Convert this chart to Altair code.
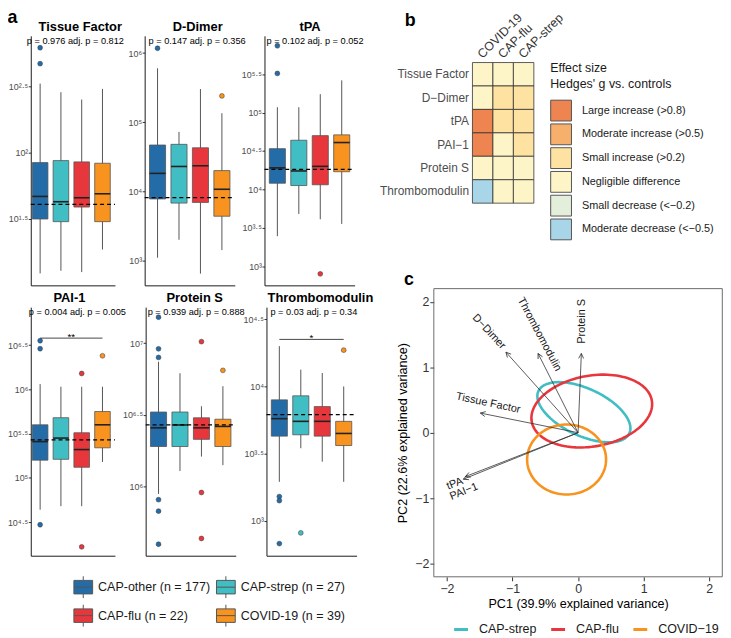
import altair as alt
import numpy as np
import pandas as pd

# ---------------------------------------------------------------- data
groups = ["CAP-other", "CAP-strep", "CAP-flu", "COVID-19"]
group_n = [177, 27, 22, 39]
group_colors = ["#246ca8", "#40bec4", "#e8373c", "#f7931e"]
group_labels = [f"{g} (n = {n})" for g, n in zip(groups, group_n)]

markers = ["Tissue Factor", "D-Dimer", "tPA", "PAI-1", "Protein S", "Thrombomodulin"]
p_text = [
    "p = 0.976 adj. p = 0.812",
    "p = 0.147 adj. p = 0.356",
    "p = 0.102 adj. p = 0.052",
    "p = 0.004 adj. p = 0.005",
    "p = 0.939 adj. p = 0.888",
    "p = 0.03 adj. p = 0.34",
]

# log10 concentrations; one row per marker, columns in `groups` order
whisker_low = [
    [1.09, 1.11, 1.10, 1.27],
    [3.04, 3.30, 2.81, 3.15],
    [3.39, 3.68, 3.61, 3.55],
    [4.64, 4.68, 4.68, 5.18],
    [5.95, 6.11, 6.21, 6.15],
    [3.29, 3.54, 3.44, 3.29],
]
quartile_1 = [
    [1.50, 1.48, 1.59, 1.48],
    [3.89, 3.83, 3.84, 3.64],
    [4.08, 4.05, 4.06, 4.23],
    [5.20, 5.21, 5.12, 5.34],
    [6.28, 6.28, 6.33, 6.28],
    [3.63, 3.64, 3.63, 3.56],
]
medians = [
    [1.67, 1.63, 1.66, 1.69],
    [4.26, 4.36, 4.37, 4.03],
    [4.28, 4.24, 4.30, 4.61],
    [5.41, 5.45, 5.32, 5.60],
    [6.41, 6.43, 6.41, 6.42],
    [3.76, 3.74, 3.74, 3.65],
]
quartile_3 = [
    [1.925, 1.94, 1.93, 1.92],
    [4.67, 4.68, 4.63, 4.30],
    [4.53, 4.64, 4.70, 4.71],
    [5.60, 5.68, 5.51, 5.75],
    [6.52, 6.52, 6.48, 6.47],
    [3.90, 3.93, 3.85, 3.74],
]
whisker_high = [
    [2.52, 2.455, 2.40, 2.48],
    [5.78, 4.86, 5.48, 5.13],
    [5.07, 5.07, 5.24, 5.42],
    [6.06, 6.03, 6.03, 6.03],
    [6.87, 6.79, 6.56, 6.70],
    [4.30, 4.125, 4.10, 4.00],
]
control_median = [1.61, 3.91, 4.26, 5.43, 6.43, 3.79]

# outliers: marker index, group index, log10 value
outlier_marker = [0, 0, 1, 1, 2, 2, 2,
                  3, 3, 3, 3, 3, 3,
                  4, 4, 4, 4, 4, 4, 4, 4, 4, 4,
                  5, 5, 5, 5, 5]
outlier_group = [0, 0, 0, 3, 0, 0, 2,
                 0, 0, 0, 2, 2, 3,
                 0, 0, 0, 0, 0, 0, 2, 2, 2, 3,
                 0, 0, 0, 1, 3]
outlier_value = [2.79, 2.67, 6.07, 5.38, 5.87, 5.51, 2.90,
                 6.55, 6.46, 4.47, 6.18, 4.22, 6.38,
                 7.18, 6.96, 6.90, 5.91, 5.83, 5.60, 7.01, 5.96, 5.64, 6.81,
                 3.18, 3.15, 2.83, 2.91, 4.27]

y_domains = [[1.0, 2.88], [2.64, 6.25], [2.75, 6.0], [4.12, 6.93], [5.52, 7.25], [2.74, 4.59]]
y_ticks = [[1.5, 2, 2.5], [3, 4, 5, 6], [3, 3.5, 4, 4.5, 5, 5.5],
           [4.5, 5, 5.5, 6, 6.5], [6, 6.5, 7], [3, 3.5, 4, 4.5]]

bracket_marker = [3, 5]
bracket_level = [6.58, 4.35]
bracket_stars = ["**", "*"]

# heatmap (panel b)
hm_rows = ["Tissue Factor", "D\u2212Dimer", "tPA", "PAI\u22121", "Protein S", "Thrombomodulin"]
hm_cols = ["COVID-19", "CAP-flu", "CAP-strep"]
effect_levels = ["Large increase (>0.8)", "Moderate increase (>0.5)", "Small increase (>0.2)",
                 "Negligible difference", "Small decrease (<\u22120.2)", "Moderate decrease (<\u22120.5)"]
effect_colors = ["#ee8450", "#f6b06c", "#fde2a2", "#fdf5c8", "#e3eedb", "#a9d5e8"]
hm_effect = [
    [3, 3, 3],
    [3, 2, 2],
    [0, 2, 2],
    [0, 3, 2],
    [3, 3, 3],
    [5, 3, 3],
]

# PCA biplot (panel c)
ellipse_groups = ["CAP-strep", "CAP-flu", "COVID\u221219"]
ellipse_colors = ["#40bec4", "#e8373c", "#f7931e"]
ellipse_cx = [0.089, 0.209, -0.175]
ellipse_cy = [0.313, 0.331, -0.409]
ellipse_a = [0.765, 0.93, 0.602]
ellipse_b = [0.36, 0.54, 0.534]
ellipse_angle = [-25, 10, 0]

loading_names = ["Tissue Factor", "D\u2212Dimer", "tPA", "PAI\u22121", "Protein S", "Thrombomodulin"]
loading_x = [-1.49, -1.10, -1.75, -1.72, 0.05, -0.61]
loading_y = [0.30, 1.23, -0.71, -0.67, 1.21, 1.21]
loading_label_x = [-1.37, -1.36, -1.88, -1.74, 0.063, -0.59]
loading_label_y = [0.45, 1.54, -0.78, -0.90, 1.70, 1.50]
loading_label_angle = [12, 47, 338, 338, 270, 62]

panel_letters = ["a", "b", "c"]

# ---------------------------------------------------------------- layout
W, H = 722, 629
panel_left = [[23, 138, 259], [23, 139, 261]]
panel_w = [85, 91, 91]
panel_xmin = [0.55, 0.4, 0.4]
row_top = [25, 299]
row_bottom = [277, 550]
title_dx = [7.5, 8, 0.5, -3.5, 4, 9]
p_dx = [-4, 4, 2, -2, 2, 4]
FONT = "Liberation Sans"

SUP = str.maketrans("0123456789.", "\u2070\u00b9\u00b2\u00b3\u2074\u2075\u2076\u2077\u2078\u2079\u00b7")


def power_label_expr(ticks):
    expr = "''"
    for t in reversed(ticks):
        expr = f"datum.value == {t} ? '10{format(t, 'g').translate(SUP)}' : {expr}"
    return expr


BOX_GLYPH = "M-0.86,-0.62H0.86V0.62H-0.86Z M-0.86,0H0.86 M0,-1V-0.62 M0,0.62V1"
fill_scale = alt.Scale(domain=group_labels, range=group_colors)
box_legend = alt.Legend(
    orient="none", legendX=64.5, legendY=570, columns=2, direction="horizontal", title=None,
    symbolType=BOX_GLYPH, symbolSize=484, symbolStrokeColor="#555555",
    symbolStrokeWidth=1, symbolOpacity=1, labelFontSize=12.6, labelColor="#1a1a1a",
    labelOffset=3.5, columnPadding=4, rowPadding=2, labelLimit=250,
)


def box_panel(k):
    row, col = divmod(k, 3)
    x0 = panel_left[row][col]
    x1 = x0 + panel_w[col]
    xmin = panel_xmin[col]
    yb, yt = row_bottom[row], row_top[row]
    ylo, yhi = y_domains[k]
    xs = alt.Scale(domain=[xmin, 4.6], range=[x0, x1], nice=False, zero=False)
    ys = alt.Scale(domain=[ylo, yhi], range=[yb, yt], nice=False, zero=False)
    x_axis = alt.Axis(orient="bottom", offset=yb - H, labels=False, ticks=False, title=None,
                      grid=False, domainColor="#1a1a1a", domainWidth=1)
    y_axis = alt.Axis(orient="left", offset=-x0, values=y_ticks[k],
                      labelExpr=power_label_expr(y_ticks[k]), title=None, grid=False,
                      domainColor="#1a1a1a", domainWidth=1, tickColor="#333333", tickSize=2.5,
                      labelColor="#4d4d4d", labelFontSize=9, labelPadding=0.5,
                      labelOverlap=False, labelFlush=False)

    def X(field):
        return alt.X(field, scale=xs, axis=x_axis)

    def Y(field):
        return alt.Y(field, scale=ys, axis=y_axis)

    summary = pd.DataFrame({
        "group": group_labels,
        "pos": [1, 2, 3, 4],
        "low": whisker_low[k],
        "q1": quartile_1[k],
        "median": medians[k],
        "q3": quartile_3[k],
        "high": whisker_high[k],
    })
    base = alt.Chart(summary)
    whisk = base.mark_rule(color="#555555", strokeWidth=1).encode(
        x=X("pos:Q"), y=Y("low:Q"), y2="high:Q",
    )
    halfw = base.transform_calculate(left="datum.pos - 0.375", right="datum.pos + 0.375")
    boxes = halfw.mark_rect(stroke="#555555", strokeWidth=0.8).encode(
        x=X("left:Q"), x2="right:Q", y=Y("q1:Q"), y2="q3:Q",
        fill=alt.Fill("group:N", scale=fill_scale, legend=box_legend),
    )
    meds = halfw.mark_rule(color="#222222", strokeWidth=1.6).encode(
        x=X("left:Q"), x2="right:Q", y=Y("median:Q"),
    )
    ref = alt.Chart(pd.DataFrame({"a": [xmin], "b": [4.6], "v": [control_median[k]]})).mark_rule(
        color="#000000", strokeWidth=1.2, strokeDash=[4, 3]
    ).encode(x=X("a:Q"), x2="b:Q", y=Y("v:Q"))
    idx = [i for i, m in enumerate(outlier_marker) if m == k]
    out_df = pd.DataFrame({
        "group": [group_labels[outlier_group[i]] for i in idx],
        "pos": [outlier_group[i] + 1 for i in idx],
        "value": [outlier_value[i] for i in idx],
    })
    outl = alt.Chart(out_df).mark_circle(size=24, opacity=1, stroke="#333333", strokeWidth=0.5).encode(
        x=X("pos:Q"), y=Y("value:Q"),
        fill=alt.Fill("group:N", scale=fill_scale, legend=box_legend),
    )
    txt_df = pd.DataFrame({"title": [markers[k]], "p": [p_text[k]], "xl": [xmin],
                           "xc": [(xmin + 4.6) / 2], "y": [yhi]})
    title = alt.Chart(txt_df).mark_text(fontSize=13, fontWeight="bold", align="center",
                                        baseline="middle", dx=title_dx[k], dy=-9,
                                        color="#000000").encode(
        x=X("xc:Q"), y=Y("y:Q"), text="title:N")
    ptxt = alt.Chart(txt_df).mark_text(fontSize=9.3, align="left", baseline="middle",
                                       dx=p_dx[k], dy=5, color="#000000").encode(
        x=X("xl:Q"), y=Y("y:Q"), text="p:N")
    layers = [whisk, boxes, meds, ref, outl, title, ptxt]
    if k in bracket_marker:
        j = bracket_marker.index(k)
        br_df = pd.DataFrame({"a": [1], "b": [4], "c": [2.5], "v": [bracket_level[j]], "s": [bracket_stars[j]]})
        layers.append(alt.Chart(br_df).mark_rule(color="#333333", strokeWidth=0.9).encode(
            x=X("a:Q"), x2="b:Q", y=Y("v:Q")))
        layers.append(alt.Chart(br_df).mark_text(fontSize=10, baseline="alphabetic", dy=2,
                                                 align="center", color="#000000").encode(
            x=X("c:Q"), y=Y("v:Q"), text="s:N"))
    return alt.layer(*layers)


def heatmap():
    recs = []
    for r, name in enumerate(hm_rows):
        for c, col in enumerate(hm_cols):
            recs.append({"row": name, "col": col, "effect": effect_levels[hm_effect[r][c]]})
    df = pd.DataFrame(recs)
    xs = alt.Scale(domain=hm_cols, range=[469, 531], paddingInner=0, paddingOuter=0)
    ys = alt.Scale(domain=hm_rows, range=[52, 194], paddingInner=0, paddingOuter=0)
    legend = alt.Legend(
        orient="none", legendX=547.5, legendY=52,
        title=["Effect size", "Hedges' g vs. controls"], titleFontSize=12.5,
        titleFontWeight="normal", titleLineHeight=16, titlePadding=9, titleColor="#1a1a1a",
        symbolType="square", symbolSize=441, symbolStrokeColor="#555555",
        symbolStrokeWidth=1, symbolOpacity=1, labelFontSize=11, labelColor="#1a1a1a",
        labelOffset=10, rowPadding=-2, labelLimit=250,
    )
    return alt.Chart(df).mark_rect(stroke="#333333", strokeWidth=0.8).encode(
        x=alt.X("col:N", sort=hm_cols, scale=xs,
                axis=alt.Axis(orient="top", offset=-52, title=None, ticks=False, tickSize=0,
                              domain=False, labelAngle=315, labelAlign="left",
                              labelBaseline="middle", labelPadding=7, labelOffset=-3,
                              labelFontSize=12.5, labelColor="#333333", labelOverlap=False,
                              labelLimit=200)),
        y=alt.Y("row:N", sort=hm_rows, scale=ys,
                axis=alt.Axis(orient="left", offset=-469, title=None, ticks=False, tickSize=0,
                              domain=False, labelPadding=4, labelFontSize=12,
                              labelColor="#4d4d4d", labelOverlap=False, labelLimit=200)),
        color=alt.Color("effect:N", scale=alt.Scale(domain=effect_levels, range=effect_colors),
                        legend=legend),
    )


def pca():
    xs = alt.Scale(domain=[-2.2, 2.2], range=[430, 721.3], nice=False, zero=False)
    ys = alt.Scale(domain=[-2.2, 2.2], range=[571.3, 280.3], nice=False, zero=False)
    x_axis = alt.Axis(orient="bottom", offset=571.3 - H, values=[-2, -1, 0, 1, 2], format="d",
                      title="PC1 (39.9% explained variance)", grid=False, domain=False,
                      tickColor="#333333", tickSize=4, labelColor="#333333", labelFontSize=12.5,
                      labelPadding=2, titleFontSize=12.7, titleFontWeight="normal",
                      titleColor="#000000", titlePadding=2, labelFlush=False)
    y_axis = alt.Axis(orient="left", offset=-430, values=[-2, -1, 0, 1, 2], format="d",
                      title="PC2 (22.6% explained variance)", grid=False, domain=False,
                      tickColor="#333333", tickSize=4, labelColor="#333333", labelFontSize=12.5,
                      labelPadding=1, titleFontSize=12.7, titleFontWeight="normal",
                      titleColor="#000000", titlePadding=5, labelFlush=False)

    def X(field):
        return alt.X(field, scale=xs, axis=x_axis)

    def Y(field):
        return alt.Y(field, scale=ys, axis=y_axis)

    frame_df = pd.DataFrame({"x0": [-2.2], "x1": [2.2], "y0": [-2.2], "y1": [2.2]})
    frame = alt.Chart(frame_df).mark_rect(filled=False, stroke="#6b6b6b", strokeWidth=1).encode(
        x=X("x0:Q"), x2="x1:Q", y=Y("y0:Q"), y2="y1:Q",
    )
    recs = []
    t = np.linspace(0, 2 * np.pi, 121)
    for g, cx, cy, a, b, ang in zip(ellipse_groups, ellipse_cx, ellipse_cy,
                                    ellipse_a, ellipse_b, ellipse_angle):
        th = np.radians(ang)
        ex = cx + a * np.cos(t) * np.cos(th) - b * np.sin(t) * np.sin(th)
        ey = cy + a * np.cos(t) * np.sin(th) + b * np.sin(t) * np.cos(th)
        for i, (u, v) in enumerate(zip(ex, ey)):
            recs.append({"group": g, "i": i, "x": float(u), "y": float(v)})
    ell_df = pd.DataFrame(recs)
    pca_legend = alt.Legend(orient="none", legendX=449, legendY=616, direction="horizontal",
                            title=None, symbolType="stroke", symbolSize=196,
                            symbolStrokeWidth=3, labelFontSize=12.6, labelColor="#1a1a1a",
                            labelOffset=9.5, columnPadding=8, gridAlign="none")
    ell = alt.Chart(ell_df).mark_line(strokeWidth=2.6).encode(
        x=X("x:Q"), y=Y("y:Q"),
        stroke=alt.Stroke("group:N", scale=alt.Scale(domain=ellipse_groups, range=ellipse_colors),
                          legend=pca_legend),
        order="i:Q",
    )
    ld = pd.DataFrame({
        "name": loading_names,
        "x0": [0.0] * len(loading_names),
        "y0": [0.0] * len(loading_names),
        "x": loading_x,
        "y": loading_y,
        "lx": loading_label_x,
        "ly": loading_label_y,
        "angle": loading_label_angle,
    })
    ld["head"] = np.degrees(np.arctan2(ld["x"], ld["y"])) % 360
    arrows = alt.Chart(ld).mark_rule(color="#333333", strokeWidth=0.8).encode(
        x=X("x0:Q"), y=Y("y0:Q"), x2="x:Q", y2="y:Q",
    )
    heads = alt.Chart(ld).mark_point(shape="M-0.5,1L0,0L0.5,1", filled=False, size=100,
                                     color="#333333", strokeWidth=0.8, opacity=1).encode(
        x=X("x:Q"), y=Y("y:Q"), angle=alt.Angle("head:Q", scale=None),
    )
    labels = alt.Chart(ld).mark_text(fontSize=11, color="#1a1a1a", align="center",
                                     baseline="middle").encode(
        x=X("lx:Q"), y=Y("ly:Q"), text="name:N", angle=alt.Angle("angle:Q", scale=None),
    )
    return alt.layer(frame, ell, arrows, heads, labels)


def letter(i, px, py):
    return alt.Chart(pd.DataFrame({"t": [panel_letters[i]]})).mark_text(
        fontSize=18, fontWeight="bold", align="center", baseline="alphabetic", color="#000000"
    ).encode(text="t:N", x=alt.value(px), y=alt.value(py))


chart = alt.layer(
    *[box_panel(k) for k in range(6)],
    heatmap(),
    pca(),
    letter(0, 4.5, 12),
    letter(1, 406, 15),
    letter(2, 405, 277),
).resolve_scale(
    x="independent", y="independent"
).properties(
    width=W, height=H, padding=0, autosize=alt.AutoSizeParams(type="none")
).configure(
    font=FONT
).configure_view(
    stroke=None
)

chart.save("out.html", embed_options={"renderer": "svg", "actions": False})
